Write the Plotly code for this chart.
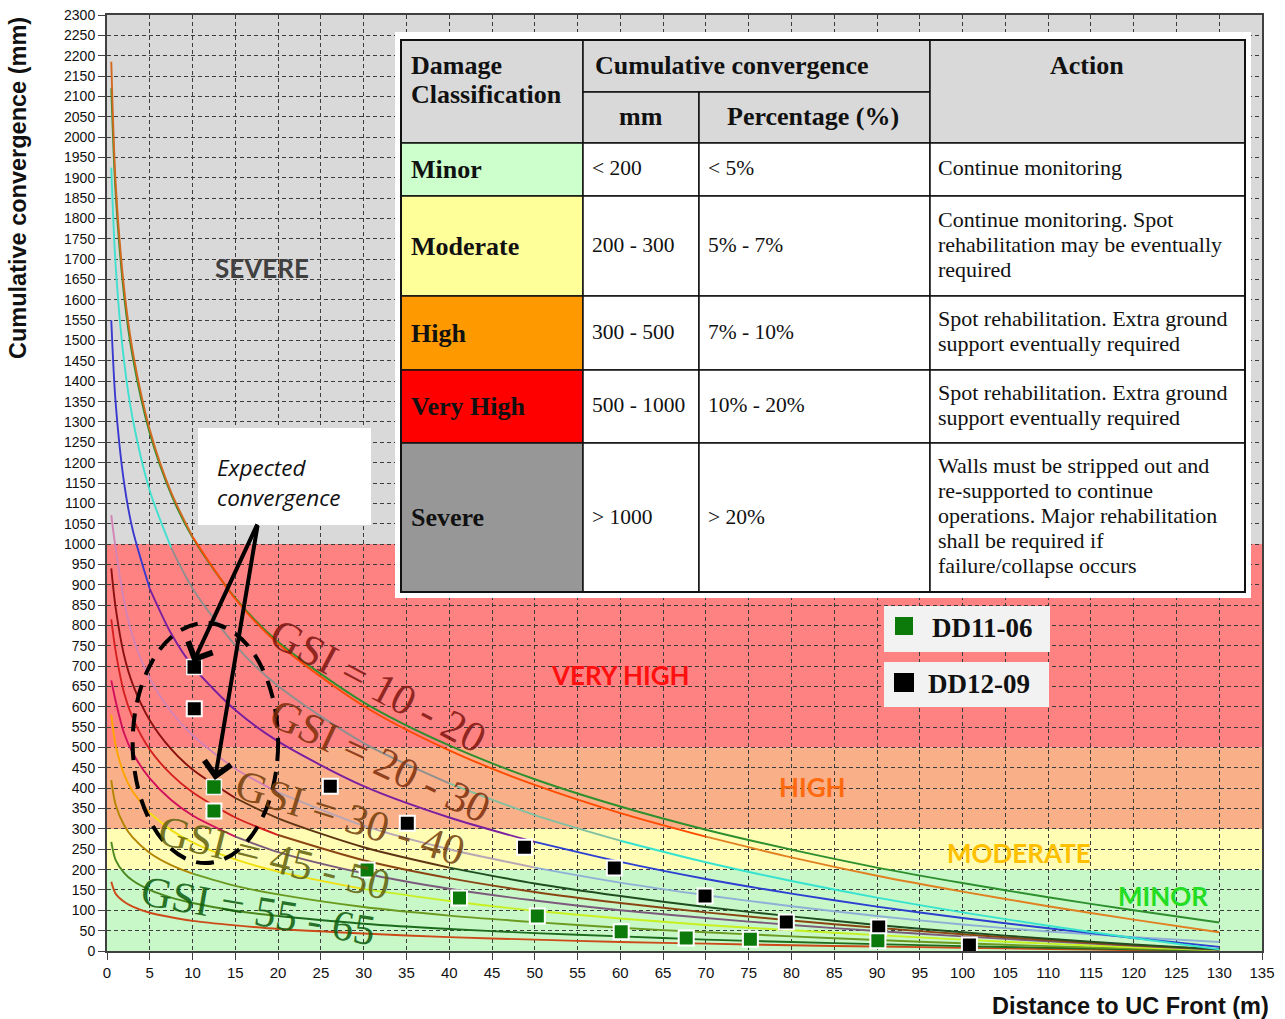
import plotly.graph_objects as go

# ---------------- data ----------------
X = [0.5, 1, 2, 3, 5, 7.5, 10, 15, 20, 30, 40, 50, 60, 70, 80, 90, 100, 110, 120, 130]

gsi_10_20_orange = [2185, 1891, 1628, 1474, 1281, 1127, 1018, 865, 755, 602, 493, 408, 339, 281, 230, 185, 146, 110, 77, 46]
gsi_10_20_green = [2120, 1866, 1610, 1460, 1272, 1122, 1016, 867, 760, 611, 505, 422, 355, 298, 249, 205, 167, 132, 100, 70]
gsi_20_30_cyan = [1925, 1688, 1448, 1308, 1131, 991, 891, 751, 651, 511, 412, 334, 271, 218, 172, 131, 95, 62, 32, 4]
gsi_20_30_blue = [1550, 1350, 1150, 1035, 890, 780, 700, 592, 515, 405, 328, 268, 219, 177, 141, 109, 81, 56, 32, 10]
gsi_30_40_mauve = [1071, 990, 860, 773, 670, 588, 530, 448, 390, 308, 250, 205, 168, 137, 110, 86, 65, 48, 34, 22]
gsi_30_40_dark = [940, 845, 726, 656, 567, 496, 446, 376, 326, 255, 205, 166, 135, 108, 85, 64, 46, 30, 16, 4]
gsi_30_40_red = [815, 738, 634, 573, 495, 434, 390, 328, 285, 223, 179, 145, 118, 95, 75, 57, 41, 27, 14, 4]
gsi_45_50_crimson = [665, 615, 535, 487, 424, 371, 333, 281, 243, 191, 153, 124, 100, 81, 64, 49, 36, 24, 13, 3]
gsi_45_50_yellow = [580, 506, 434, 392, 339, 297, 267, 225, 195, 152, 123, 99, 80, 64, 51, 39, 28, 18, 9, 2]
gsi_55_65_olive = [420, 360, 309, 279, 241, 211, 190, 160, 139, 108, 87, 71, 57, 46, 36, 27, 19, 12, 6, 2]
gsi_55_65_green = [268, 224, 192, 173, 150, 131, 118, 99, 86, 67, 54, 44, 36, 28, 22, 17, 12, 8, 4, 1]
gsi_55_65_red = [170, 141, 121, 109, 94, 83, 74, 63, 54, 43, 34, 28, 22, 18, 14, 11, 8, 5, 2, 1]

dd11_x = [12.5, 30.4, 41.2, 50.3, 60.1, 67.7, 75.2, 90.1]
dd11_y = [344, 199, 130, 86, 47, 32, 29, 25]
dd12_x = [10.2, 26.1, 35.1, 48.8, 59.3, 69.9, 79.4, 90.2, 100.8]
dd12_y = [595, 405, 314, 255, 204, 135, 71, 59, 15]
expected_x = [10.2, 12.5]
expected_y = [698, 403]

band_edges = [0, 200, 300, 500, 1000, 2300]
band_names = ["MINOR", "MODERATE", "HIGH", "VERY HIGH", "SEVERE"]

damage_classes = ["Minor", "Moderate", "High", "Very High", "Severe"]
conv_mm = ["< 200", "200 - 300", "300 - 500", "500 - 1000", "> 1000"]
conv_pct = ["< 5%", "5% - 7%", "7% - 10%", "10% - 20%", "> 20%"]
actions = [
    ["Continue monitoring"],
    ["Continue monitoring. Spot", "rehabilitation may be eventually", "required"],
    ["Spot rehabilitation. Extra ground", "support eventually required"],
    ["Spot rehabilitation. Extra ground", "support eventually required"],
    ["Walls must be stripped out and", "re-supported to continue", "operations. Major rehabilitation",
     "shall be required if", "failure/collapse occurs"],
]
gsi_labels = ["GSI = 10 - 20", "GSI = 20 - 30", "GSI = 30 - 40", "GSI = 45 - 50", "GSI = 55 - 65"]

# ---------------- styles ----------------
band_colors = ["#c8f7c8", "#fffcb4", "#f9b088", "#ff8282", "#d9d9d9"]
band_label_colors = ["#22dd22", "#ffc000", "#ff6a10", "#ff1010", "#404040"]
band_label_pos = [(1163, 896), (1019, 853), (812, 787), (620, 675), (262, 268)]
class_fill = ["#ccffcc", "#ffff99", "#ff9900", "#ff0000", "#979797"]

curves = [
    (gsi_55_65_red, [(0.5, 130, "#cc4a1a")]),
    (gsi_55_65_green, [(0.5, 20, "#4a8a1e"), (20, 130, "#1d6b1d")]),
    (gsi_55_65_olive, [(0.5, 10, "#b38600"), (10, 130, "#6b9a20")]),
    (gsi_45_50_yellow, [(0.5, 5, "#ffa500"), (5, 30, "#f0e010"), (30, 130, "#c6f020")]),
    (gsi_45_50_crimson, [(0.5, 15, "#d0105a"), (15, 130, "#7b5a7b")]),
    (gsi_30_40_red, [(0.5, 20, "#d42020"), (20, 130, "#8b4513")]),
    (gsi_30_40_dark, [(0.5, 15, "#8b1010"), (15, 40, "#5e3412"), (40, 130, "#1f4d1f")]),
    (gsi_30_40_mauve, [(0.5, 20, "#d383b5"), (20, 50, "#b8a6b4"), (50, 130, "#8fb0d6")]),
    (gsi_20_30_blue, [(0.5, 5, "#3a3ad0"), (5, 50, "#7a1fa0"), (50, 130, "#2b3fd0")]),
    (gsi_20_30_cyan, [(0.5, 7.5, "#40e0d0"), (7.5, 40, "#8f8f8f"), (40, 60, "#80c0a0"), (60, 130, "#35e3cf")]),
    (gsi_10_20_green, [(0.5, 130, "#2d8f2d")]),
    (gsi_10_20_orange, [(0.5, 10, "#d2691e"), (10, 70, "#ff4a00"), (70, 130, "#e08020")]),
]

L, R, T, B = 107, 1262, 15, 951


def px_x(p):
    return (p - L) / (R - L)


def px_y(p):
    return (B - p) / (B - T)


def esc(s):
    return s.replace("<br>", "\n").replace("<", "&lt;").replace(">", "&gt;").replace("\n", "<br>")


fig = go.Figure()

for ys, segs in curves:
    for xa, xb, col in segs:
        idx = [i for i, xv in enumerate(X) if xa <= xv <= xb]
        fig.add_trace(go.Scatter(
            x=[X[i] for i in idx], y=[ys[i] for i in idx], mode="lines",
            line=dict(color=col, width=1.9, shape="spline", smoothing=0.8),
            showlegend=False, hoverinfo="skip"))

fig.add_trace(go.Scatter(
    x=dd12_x, y=dd12_y, mode="markers", name="DD12-09", showlegend=False,
    marker=dict(symbol="square", size=15, color="#000000", line=dict(color="white", width=2))))
fig.add_trace(go.Scatter(
    x=dd11_x, y=dd11_y, mode="markers", name="DD11-06", showlegend=False,
    marker=dict(symbol="square", size=15, color="#0b7a0b", line=dict(color="white", width=2))))
fig.add_trace(go.Scatter(
    x=expected_x, y=expected_y, mode="markers", showlegend=False,
    marker=dict(symbol="square", size=15, color=["#000000", "#0b7a0b"],
                line=dict(color="#f4f4f4", width=1.5))))

shapes = []
annotations = []

# damage bands
for i in range(len(band_colors)):
    shapes.append(dict(type="rect", xref="x", yref="y", x0=0, x1=135,
                       y0=band_edges[i], y1=band_edges[i + 1],
                       fillcolor=band_colors[i], line=dict(width=0), layer="below"))
    bx, by = band_label_pos[i]
    annotations.append(dict(xref="paper", yref="paper", x=px_x(bx), y=px_y(by),
                            xanchor="center", yanchor="middle",
                            text="<b>%s</b>" % band_names[i], showarrow=False,
                            font=dict(family="Lato", size=26, color=band_label_colors[i])))


def rect(x0, y0, x1, y1, fill, lw=1.5, lc="#111111"):
    shapes.append(dict(type="rect", xref="paper", yref="paper",
                       x0=px_x(x0), x1=px_x(x1), y0=px_y(y1), y1=px_y(y0),
                       fillcolor=fill, line=dict(color=lc, width=lw), layer="above"))


def text(xp, yp, s, size, bold=False, anchor="left", family="Liberation Serif", color="#111111",
         italic=False, angle=0):
    t = esc(s)
    if bold:
        t = "<b>%s</b>" % t
    if italic:
        t = "<i>%s</i>" % t
    annotations.append(dict(xref="paper", yref="paper", x=px_x(xp), y=px_y(yp), text=t,
                            showarrow=False, xanchor=anchor, yanchor="middle", align=anchor,
                            textangle=angle,
                            font=dict(family=family, size=size, color=color)))


# table
rect(395, 32, 1251, 598, "white", lw=0, lc="white")
hdr = "#d9d9d9"
rect(401, 40, 583, 143, hdr)
rect(583, 40, 930, 92, hdr)
rect(583, 92, 699, 143, hdr)
rect(699, 92, 930, 143, hdr)
rect(930, 40, 1245, 143, hdr)
text(409, 65, "Damage", 26, bold=True)
text(409, 94, "Classification", 26, bold=True)
text(593, 65, "Cumulative convergence", 26, bold=True)
text(641, 117, "mm", 26, bold=True, anchor="center")
text(813, 117, "Percentage (%)", 26, bold=True, anchor="center")
text(1087, 65, "Action", 26, bold=True, anchor="center")
row_edges = [143, 196, 296, 370, 443, 592]
for i in range(len(damage_classes)):
    y0, y1 = row_edges[i], row_edges[i + 1]
    ym = (y0 + y1) / 2
    rect(401, y0, 583, y1, class_fill[i])
    rect(583, y0, 699, y1, "white")
    rect(699, y0, 930, y1, "white")
    rect(930, y0, 1245, y1, "white")
    text(409, ym, damage_classes[i], 26, bold=True)
    text(590, ym - 1, conv_mm[i], 21.5)
    text(706, ym - 1, conv_pct[i], 21.5)
    n = len(actions[i])
    for k, line in enumerate(actions[i]):
        text(936, ym - 2 + (k - (n - 1) / 2) * 25, line, 22)
rect(401, 40, 1245, 592, "rgba(0,0,0,0)", lw=2)

# legend boxes
rect(884, 606, 1050, 652, "#f2f2f2", lw=0, lc="#f2f2f2")
rect(884, 662, 1049, 707, "#f2f2f2", lw=0, lc="#f2f2f2")
rect(895, 617, 913, 635, "#0b7a0b", lw=0, lc="#0b7a0b")
rect(894, 673, 914, 692, "#000000", lw=0, lc="#000000")
text(930, 628, "DD11-06", 27, bold=True)
text(926, 684, "DD12-09", 27, bold=True)

# expected convergence box
rect(198, 428, 371, 525, "white", lw=0, lc="white")
text(215, 468, "Expected", 22.5, family="Open Sans", italic=True)
text(215, 498, "convergence", 22.5, family="Open Sans", italic=True)

# arrows to expected points
annotations.append(dict(xref="x", yref="y", x=10.05, y=708, ax=65, ay=-140, text="",
                        showarrow=True, arrowhead=4, arrowsize=1.3, arrowwidth=4,
                        arrowcolor="black", standoff=0))
annotations.append(dict(xref="x", yref="y", x=12.6, y=420, ax=43, ay=-256, text="",
                        showarrow=True, arrowhead=4, arrowsize=1.3, arrowwidth=4,
                        arrowcolor="black", standoff=0))

# dashed ellipse
shapes.append(dict(type="circle", xref="x", yref="y", x0=3.0, x1=20.0, y0=216, y1=806,
                   line=dict(color="black", width=4, dash="18px,11px"), layer="above"))

# GSI labels
gsi_pos = [(378, 685, 28), (380, 760, 25), (350, 817, 17), (274, 857, 14), (258, 910, 10)]
gsi_cols = ["rgba(125,20,15,0.85)", "rgba(125,45,10,0.85)", "rgba(115,60,10,0.85)",
            "rgba(95,95,10,0.85)", "rgba(15,95,15,0.88)"]
for lab, (gx, gy, ga), gc in zip(gsi_labels, gsi_pos, gsi_cols):
    text(gx, gy, lab, 43, anchor="center", color=gc, angle=ga)

# axis titles
annotations.append(dict(xref="paper", yref="paper", x=px_x(18), y=px_y(188),
                        xanchor="center", yanchor="middle",
                        text="<b>Cumulative convergence (mm)</b>", showarrow=False, textangle=-90,
                        font=dict(family="Liberation Sans", size=23.5, color="#111111")))
annotations.append(dict(xref="paper", yref="paper", x=px_x(1130), y=px_y(1006),
                        xanchor="center", yanchor="middle",
                        text="<b>Distance to UC Front (m)</b>", showarrow=False,
                        font=dict(family="Liberation Sans", size=23.5, color="#111111")))

axis_common = dict(showgrid=True, gridcolor="#3c3c3c", gridwidth=1, griddash="4px,3px",
                   ticks="outside", ticklen=7, tickcolor="#404040", tickwidth=1,
                   showline=True, linecolor="#404040", linewidth=2, mirror=True,
                   zeroline=False, color="#111111", automargin=False)

fig.update_layout(
    width=1285, height=1019, autosize=False,
    margin=dict(l=L, r=1285 - R, t=T, b=1019 - B, pad=0),
    paper_bgcolor="white", plot_bgcolor="white",
    xaxis=dict(range=[0, 135], tick0=0, dtick=5,
               tickfont=dict(family="Liberation Sans", size=15, color="#111111"), **axis_common),
    yaxis=dict(range=[0, 2300], tick0=0, dtick=50,
               tickfont=dict(family="Liberation Sans", size=14, color="#111111"), **axis_common),
    shapes=shapes, annotations=annotations, showlegend=False,
)

fig.write_html("out.html")
